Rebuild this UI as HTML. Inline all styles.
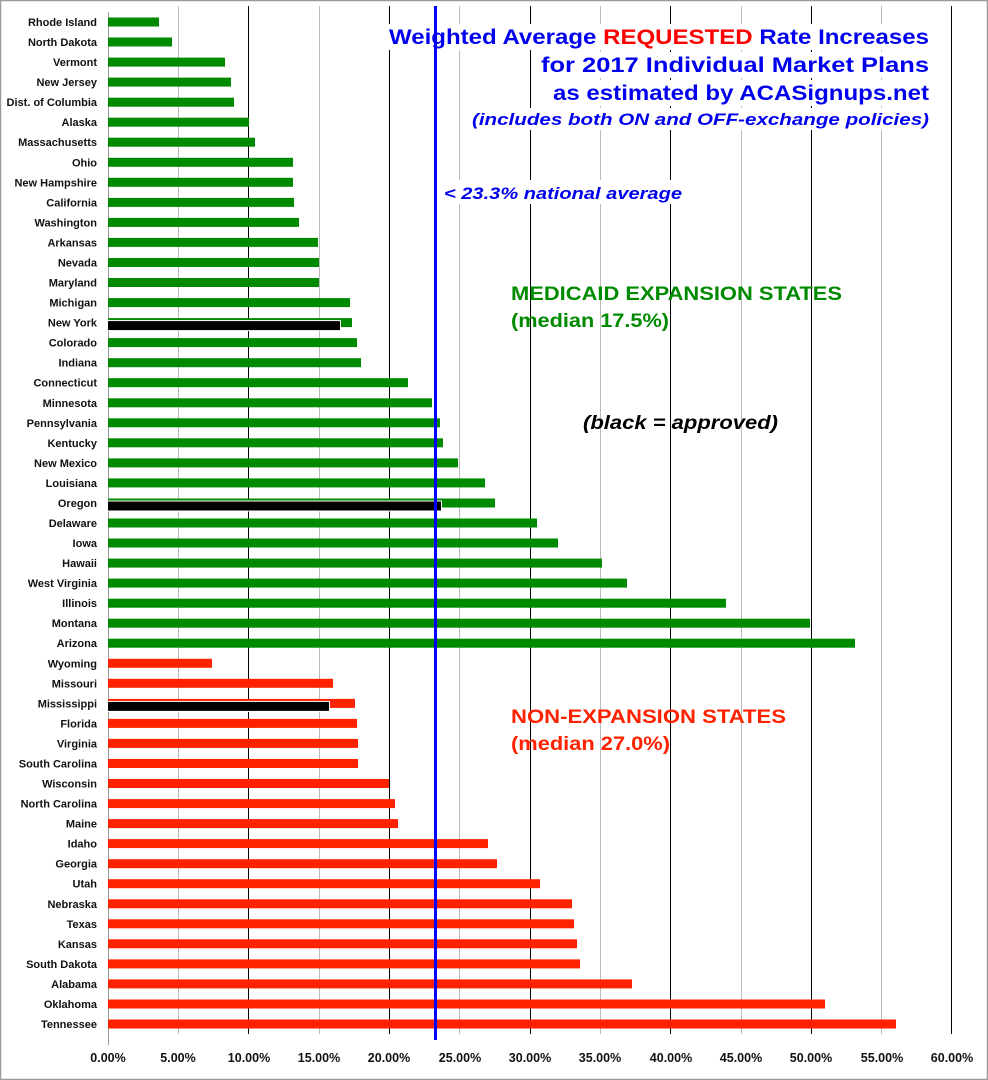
<!DOCTYPE html>
<html><head><meta charset="utf-8"><style>
html,body{margin:0;padding:0;background:#fff}
svg{display:block;font-family:"Liberation Sans",Arial,sans-serif}
</style></head><body>
<svg width="988" height="1080" xmlns="http://www.w3.org/2000/svg">
<rect x="0.5" y="0.5" width="987" height="1079" fill="#fff" stroke="#999" stroke-width="1.5"/>
<g stroke-width="1">
<line x1="178.5" y1="6" x2="178.5" y2="1034" stroke="#bbb"/>
<line x1="248.5" y1="6" x2="248.5" y2="1034" stroke="#000"/>
<line x1="319.5" y1="6" x2="319.5" y2="1034" stroke="#bbb"/>
<line x1="389.5" y1="6" x2="389.5" y2="1034" stroke="#000"/>
<line x1="459.5" y1="6" x2="459.5" y2="1034" stroke="#bbb"/>
<line x1="530.5" y1="6" x2="530.5" y2="1034" stroke="#000"/>
<line x1="600.5" y1="6" x2="600.5" y2="1034" stroke="#bbb"/>
<line x1="670.5" y1="6" x2="670.5" y2="1034" stroke="#000"/>
<line x1="741.5" y1="6" x2="741.5" y2="1034" stroke="#bbb"/>
<line x1="811.5" y1="6" x2="811.5" y2="1034" stroke="#000"/>
<line x1="881.5" y1="6" x2="881.5" y2="1034" stroke="#bbb"/>
<line x1="951.5" y1="6" x2="951.5" y2="1034" stroke="#000"/>
<line x1="108.5" y1="12" x2="108.5" y2="1045" stroke="#999"/>
</g>
<rect x="388" y="24" width="545" height="26" fill="#fff"/>
<rect x="540" y="52" width="393" height="26" fill="#fff"/>
<rect x="553" y="80" width="380" height="26" fill="#fff"/>
<rect x="470" y="108" width="463" height="22" fill="#fff"/>
<rect x="440" y="180" width="250" height="24" fill="#fff"/>
<g font-size="11" font-weight="bold" fill="#111" text-anchor="end">
<g transform="translate(0,22)"><rect x="108" y="-4.5" width="51" height="9" fill="#008a00"/><text x="97" y="4">Rhode Island</text></g>
<g transform="translate(0,42)"><rect x="108" y="-4.5" width="64" height="9" fill="#008a00"/><text x="97" y="4">North Dakota</text></g>
<g transform="translate(0,62.1)"><rect x="108" y="-4.5" width="117" height="9" fill="#008a00"/><text x="97" y="4">Vermont</text></g>
<g transform="translate(0,82.1)"><rect x="108" y="-4.5" width="123" height="9" fill="#008a00"/><text x="97" y="4">New Jersey</text></g>
<g transform="translate(0,102.2)"><rect x="108" y="-4.5" width="126" height="9" fill="#008a00"/><text x="97" y="4">Dist. of Columbia</text></g>
<g transform="translate(0,122.2)"><rect x="108" y="-4.5" width="141" height="9" fill="#008a00"/><text x="97" y="4">Alaska</text></g>
<g transform="translate(0,142.2)"><rect x="108" y="-4.5" width="147" height="9" fill="#008a00"/><text x="97" y="4">Massachusetts</text></g>
<g transform="translate(0,162.3)"><rect x="108" y="-4.5" width="185" height="9" fill="#008a00"/><text x="97" y="4">Ohio</text></g>
<g transform="translate(0,182.3)"><rect x="108" y="-4.5" width="185" height="9" fill="#008a00"/><text x="97" y="4">New Hampshire</text></g>
<g transform="translate(0,202.4)"><rect x="108" y="-4.5" width="186" height="9" fill="#008a00"/><text x="97" y="4">California</text></g>
<g transform="translate(0,222.4)"><rect x="108" y="-4.5" width="191" height="9" fill="#008a00"/><text x="97" y="4">Washington</text></g>
<g transform="translate(0,242.4)"><rect x="108" y="-4.5" width="210" height="9" fill="#008a00"/><text x="97" y="4">Arkansas</text></g>
<g transform="translate(0,262.5)"><rect x="108" y="-4.5" width="211" height="9" fill="#008a00"/><text x="97" y="4">Nevada</text></g>
<g transform="translate(0,282.5)"><rect x="108" y="-4.5" width="211" height="9" fill="#008a00"/><text x="97" y="4">Maryland</text></g>
<g transform="translate(0,302.6)"><rect x="108" y="-4.5" width="242" height="9" fill="#008a00"/><text x="97" y="4">Michigan</text></g>
<g transform="translate(0,322.6)"><rect x="108" y="-4.5" width="244" height="9" fill="#008a00"/><rect x="107.5" y="-2" width="233" height="10" fill="#000" stroke="#fff"/><text x="97" y="4">New York</text></g>
<g transform="translate(0,342.6)"><rect x="108" y="-4.5" width="249" height="9" fill="#008a00"/><text x="97" y="4">Colorado</text></g>
<g transform="translate(0,362.7)"><rect x="108" y="-4.5" width="253" height="9" fill="#008a00"/><text x="97" y="4">Indiana</text></g>
<g transform="translate(0,382.7)"><rect x="108" y="-4.5" width="300" height="9" fill="#008a00"/><text x="97" y="4">Connecticut</text></g>
<g transform="translate(0,402.8)"><rect x="108" y="-4.5" width="324" height="9" fill="#008a00"/><text x="97" y="4">Minnesota</text></g>
<g transform="translate(0,422.8)"><rect x="108" y="-4.5" width="332" height="9" fill="#008a00"/><text x="97" y="4">Pennsylvania</text></g>
<g transform="translate(0,442.8)"><rect x="108" y="-4.5" width="335" height="9" fill="#008a00"/><text x="97" y="4">Kentucky</text></g>
<g transform="translate(0,462.9)"><rect x="108" y="-4.5" width="350" height="9" fill="#008a00"/><text x="97" y="4">New Mexico</text></g>
<g transform="translate(0,482.9)"><rect x="108" y="-4.5" width="377" height="9" fill="#008a00"/><text x="97" y="4">Louisiana</text></g>
<g transform="translate(0,503)"><rect x="108" y="-4.5" width="387" height="9" fill="#008a00"/><rect x="107.5" y="-2" width="334" height="10" fill="#000" stroke="#fff"/><text x="97" y="4">Oregon</text></g>
<g transform="translate(0,523)"><rect x="108" y="-4.5" width="429" height="9" fill="#008a00"/><text x="97" y="4">Delaware</text></g>
<g transform="translate(0,543)"><rect x="108" y="-4.5" width="450" height="9" fill="#008a00"/><text x="97" y="4">Iowa</text></g>
<g transform="translate(0,563.1)"><rect x="108" y="-4.5" width="494" height="9" fill="#008a00"/><text x="97" y="4">Hawaii</text></g>
<g transform="translate(0,583.1)"><rect x="108" y="-4.5" width="519" height="9" fill="#008a00"/><text x="97" y="4">West Virginia</text></g>
<g transform="translate(0,603.2)"><rect x="108" y="-4.5" width="618" height="9" fill="#008a00"/><text x="97" y="4">Illinois</text></g>
<g transform="translate(0,623.2)"><rect x="108" y="-4.5" width="702" height="9" fill="#008a00"/><text x="97" y="4">Montana</text></g>
<g transform="translate(0,643.2)"><rect x="108" y="-4.5" width="747" height="9" fill="#008a00"/><text x="97" y="4">Arizona</text></g>
<g transform="translate(0,663.3)"><rect x="108" y="-4.5" width="104" height="9" fill="#ff2200"/><text x="97" y="4">Wyoming</text></g>
<g transform="translate(0,683.3)"><rect x="108" y="-4.5" width="225" height="9" fill="#ff2200"/><text x="97" y="4">Missouri</text></g>
<g transform="translate(0,703.4)"><rect x="108" y="-4.5" width="247" height="9" fill="#ff2200"/><rect x="107.5" y="-2" width="222" height="10" fill="#000" stroke="#fff"/><text x="97" y="4">Mississippi</text></g>
<g transform="translate(0,723.4)"><rect x="108" y="-4.5" width="249" height="9" fill="#ff2200"/><text x="97" y="4">Florida</text></g>
<g transform="translate(0,743.4)"><rect x="108" y="-4.5" width="250" height="9" fill="#ff2200"/><text x="97" y="4">Virginia</text></g>
<g transform="translate(0,763.5)"><rect x="108" y="-4.5" width="250" height="9" fill="#ff2200"/><text x="97" y="4">South Carolina</text></g>
<g transform="translate(0,783.5)"><rect x="108" y="-4.5" width="281" height="9" fill="#ff2200"/><text x="97" y="4">Wisconsin</text></g>
<g transform="translate(0,803.6)"><rect x="108" y="-4.5" width="287" height="9" fill="#ff2200"/><text x="97" y="4">North Carolina</text></g>
<g transform="translate(0,823.6)"><rect x="108" y="-4.5" width="290" height="9" fill="#ff2200"/><text x="97" y="4">Maine</text></g>
<g transform="translate(0,843.6)"><rect x="108" y="-4.5" width="380" height="9" fill="#ff2200"/><text x="97" y="4">Idaho</text></g>
<g transform="translate(0,863.7)"><rect x="108" y="-4.5" width="389" height="9" fill="#ff2200"/><text x="97" y="4">Georgia</text></g>
<g transform="translate(0,883.7)"><rect x="108" y="-4.5" width="432" height="9" fill="#ff2200"/><text x="97" y="4">Utah</text></g>
<g transform="translate(0,903.8)"><rect x="108" y="-4.5" width="464" height="9" fill="#ff2200"/><text x="97" y="4">Nebraska</text></g>
<g transform="translate(0,923.8)"><rect x="108" y="-4.5" width="466" height="9" fill="#ff2200"/><text x="97" y="4">Texas</text></g>
<g transform="translate(0,943.8)"><rect x="108" y="-4.5" width="469" height="9" fill="#ff2200"/><text x="97" y="4">Kansas</text></g>
<g transform="translate(0,963.9)"><rect x="108" y="-4.5" width="472" height="9" fill="#ff2200"/><text x="97" y="4">South Dakota</text></g>
<g transform="translate(0,983.9)"><rect x="108" y="-4.5" width="524" height="9" fill="#ff2200"/><text x="97" y="4">Alabama</text></g>
<g transform="translate(0,1004)"><rect x="108" y="-4.5" width="717" height="9" fill="#ff2200"/><text x="97" y="4">Oklahoma</text></g>
<g transform="translate(0,1024)"><rect x="108" y="-4.5" width="788" height="9" fill="#ff2200"/><text x="97" y="4">Tennessee</text></g>
</g>
<g font-size="12.5" font-weight="bold" fill="#111" text-anchor="middle">
<text x="108" y="1062">0.00%</text><text x="178" y="1062">5.00%</text><text x="249" y="1062">10.00%</text><text x="319" y="1062">15.00%</text><text x="389" y="1062">20.00%</text><text x="460" y="1062">25.00%</text><text x="530" y="1062">30.00%</text><text x="600" y="1062">35.00%</text><text x="671" y="1062">40.00%</text><text x="741" y="1062">45.00%</text><text x="811" y="1062">50.00%</text><text x="882" y="1062">55.00%</text><text x="952" y="1062">60.00%</text>
</g>
<line x1="435.5" y1="6" x2="435.5" y2="1040" stroke="#0000ff" stroke-width="3"/>
<g font-weight="bold" fill="#0000ee">
<text x="389" y="44" font-size="21" textLength="540" lengthAdjust="spacingAndGlyphs">Weighted Average <tspan fill="#ff0000">REQUESTED</tspan> Rate Increases</text>
<text x="541" y="72" font-size="21" textLength="388" lengthAdjust="spacingAndGlyphs">for 2017 Individual Market Plans</text>
<text x="553" y="100" font-size="21" textLength="376" lengthAdjust="spacingAndGlyphs">as estimated by ACASignups.net</text>
<text x="472" y="125" font-size="17" font-style="italic" textLength="457" lengthAdjust="spacingAndGlyphs">(includes both ON and OFF-exchange policies)</text>
<text x="444" y="199" font-size="17" font-style="italic" textLength="238" lengthAdjust="spacingAndGlyphs">&lt; 23.3% national average</text>
</g>
<g font-weight="bold" font-size="19">
<text x="511" y="300" fill="#008a00" textLength="331" lengthAdjust="spacingAndGlyphs">MEDICAID EXPANSION STATES</text>
<text x="511" y="327" fill="#008a00" textLength="158" lengthAdjust="spacingAndGlyphs">(median 17.5%)</text>
<text x="583" y="429" font-style="italic" fill="#000" textLength="195" lengthAdjust="spacingAndGlyphs">(black = approved)</text>
<text x="511" y="723" fill="#ff2200" textLength="275" lengthAdjust="spacingAndGlyphs">NON-EXPANSION STATES</text>
<text x="511" y="750" fill="#ff2200" textLength="159" lengthAdjust="spacingAndGlyphs">(median 27.0%)</text>
</g>
</svg>
</body></html>
